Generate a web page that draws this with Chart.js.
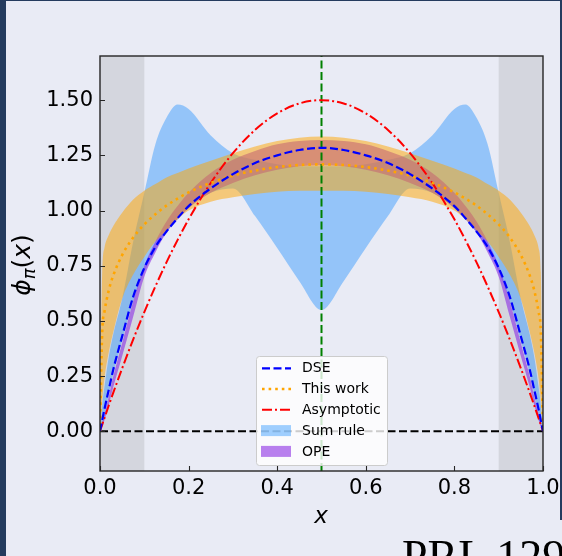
<!DOCTYPE html>
<html>
<head>
<meta charset="utf-8">
<script src="https://cdn.jsdelivr.net/npm/chart.js@4.4.1/dist/chart.umd.min.js"></script>
<style>
    html, body { margin: 0; padding: 0; }
    body {
        width: 562px; height: 556px; overflow: hidden; position: relative;
        background: #243b5e; font-family: "DejaVu Sans", sans-serif;
    }
    #panel { position: absolute; left: 6px; top: 1px; right: 0; bottom: 0; background: #e9ebf5; }
    #chart { position: absolute; left: 0; top: 0; }
    #edge  { position: absolute; left: 560px; top: 0; width: 2px; height: 520px; background: #243b5e; }
    .axis-title {
        position: absolute; height: 30px; line-height: 30px; text-align: center;
        font-family: "DejaVu Sans", sans-serif; font-size: 22px; color: #000; white-space: nowrap;
    }
    .axis-title i { font-style: italic; }
    .axis-title sub { font-size: 72%; vertical-align: -0.3em; line-height: 0; }
    #ylab { left: -38px; top: 250px; width: 120px; font-size: 25px; transform: rotate(-90deg); }
    #xlab { left: 291px; top: 500px; width: 60px; font-size: 23px; }
    #ref {
        position: absolute; left: 402px; top: 534px; line-height: 1; white-space: nowrap;
        font-family: "Liberation Serif", serif; font-size: 46px; color: #000;
    }
</style>
</head>
<body>
<div id="panel"></div>
<canvas id="chart" width="562" height="556"></canvas>
<div id="edge"></div>
<div id="ylab" class="axis-title"><i>ϕ</i><sub><i>π</i></sub>(<i>x</i>)</div>
<div id="xlab" class="axis-title"><i>x</i></div>
<div id="ref">PRL 129</div>

<script>
/* ============================================================
   Pion DA comparison - phi_pi(x) vs x
   ============================================================ */

// ── Data ──────────────────────────────────────────────────────
const xGrid = [0, 0.005, 0.01, 0.02, 0.03, 0.05, 0.075, 0.1, 0.125, 0.15, 0.175, 0.2, 0.25, 0.3, 0.35, 0.4, 0.45, 0.5,
               0.55, 0.6, 0.65, 0.7, 0.75, 0.8, 0.825, 0.85, 0.875, 0.9, 0.925, 0.95, 0.97, 0.98, 0.99, 0.995, 1];

const dseValues = [0, 0.05, 0.1, 0.19, 0.28, 0.43, 0.61, 0.74, 0.835, 0.905, 0.965, 1.02, 1.1, 1.165, 1.215, 1.25, 1.274, 1.284,
                   1.274, 1.25, 1.215, 1.165, 1.1, 1.02, 0.965, 0.905, 0.835, 0.74, 0.61, 0.43, 0.28, 0.19, 0.1, 0.05, 0];

const thisWorkValues = [0, 0.45, 0.54, 0.64, 0.706, 0.798, 0.878, 0.937, 0.983, 1.022, 1.054, 1.082, 1.125, 1.158, 1.181, 1.197, 1.206, 1.209,
                        1.206, 1.197, 1.181, 1.158, 1.125, 1.082, 1.054, 1.022, 0.983, 0.937, 0.878, 0.798, 0.706, 0.64, 0.54, 0.45, 0];

const asymptoticValues = [0, 0.03, 0.059, 0.118, 0.175, 0.285, 0.416, 0.54, 0.656, 0.765, 0.866, 0.96, 1.125, 1.26, 1.365, 1.44, 1.485, 1.5,
                          1.485, 1.44, 1.365, 1.26, 1.125, 0.96, 0.866, 0.765, 0.656, 0.54, 0.416, 0.285, 0.175, 0.118, 0.059, 0.03, 0];

const thisWorkUpper = [0, 0.72, 0.83, 0.89, 0.93, 0.99, 1.05, 1.09, 1.12, 1.15, 1.17, 1.19, 1.225, 1.26, 1.29, 1.315, 1.33, 1.335,
                       1.33, 1.315, 1.29, 1.26, 1.225, 1.19, 1.17, 1.15, 1.12, 1.09, 1.05, 0.99, 0.93, 0.89, 0.83, 0.72, 0];
const thisWorkLower = [0, 0.14, 0.24, 0.36, 0.45, 0.6, 0.71, 0.79, 0.86, 0.91, 0.96, 1.0, 1.04, 1.06, 1.075, 1.085, 1.09, 1.09,
                       1.09, 1.085, 1.075, 1.06, 1.04, 1.0, 0.96, 0.91, 0.86, 0.79, 0.71, 0.6, 0.45, 0.36, 0.24, 0.14, 0];

const sumRuleUpper = [0, 0.12, 0.2, 0.34, 0.44, 0.6, 0.86, 1.08, 1.3, 1.42, 1.48, 1.46, 1.34, 1.26, 1.23, 1.21, 1.2, 1.2,
                      1.2, 1.21, 1.23, 1.26, 1.34, 1.46, 1.48, 1.42, 1.3, 1.08, 0.86, 0.6, 0.44, 0.34, 0.2, 0.12, 0];
const sumRuleLower = [0, 0.04, 0.08, 0.17, 0.26, 0.41, 0.59, 0.72, 0.82, 0.9, 0.96, 1.01, 1.08, 1.1, 0.975, 0.83, 0.68, 0.55,
                      0.68, 0.83, 0.975, 1.1, 1.08, 1.01, 0.96, 0.9, 0.82, 0.72, 0.59, 0.41, 0.26, 0.17, 0.08, 0.04, 0];

const opeUpper = [0, 0.04, 0.08, 0.16, 0.25, 0.4, 0.59, 0.75, 0.86, 0.95, 1.02, 1.08, 1.17, 1.23, 1.27, 1.3, 1.315, 1.32,
                  1.315, 1.3, 1.27, 1.23, 1.17, 1.08, 1.02, 0.95, 0.86, 0.75, 0.59, 0.4, 0.25, 0.16, 0.08, 0.04, 0];
const opeLower = [0, 0.02, 0.05, 0.12, 0.2, 0.34, 0.52, 0.7, 0.81, 0.9, 0.96, 1.01, 1.08, 1.125, 1.16, 1.185, 1.2, 1.205,
                  1.2, 1.185, 1.16, 1.125, 1.08, 1.01, 0.96, 0.9, 0.81, 0.7, 0.52, 0.34, 0.2, 0.12, 0.05, 0.02, 0];

const xTicks = [0, 0.2, 0.4, 0.6, 0.8, 1.0];
const yTicks = [0, 0.25, 0.5, 0.75, 1.0, 1.25, 1.5];
const xRange = [0, 1];
const yRange = [-0.18, 1.70];
const shadedSpans = [[0, 0.1], [0.9, 1.0]];
const zeroLineX = [0, 1];
const zeroLineY = [0, 0];
const midLineX = [0.5, 0.5];
const midLineY = [-0.18, 1.70];
const legendLabels = ["DSE", "This work", "Asymptotic", "Sum rule", "OPE"];

// ── Styles ────────────────────────────────────────────────────
const FONT = "DejaVu Sans";
const C_DSE    = "#0000ff";
const C_WORK   = "#ffa500";
const C_ASYM   = "#ff0000";
const C_SUM    = "rgba(30, 144, 255, 0.42)";
const C_OPE    = "rgba(138, 43, 226, 0.6)";
const C_BAND   = "rgba(255, 165, 0, 0.5)";

// ── Dataset helpers ───────────────────────────────────────────
function pts(xs, ys) {
    return xs.map((x, i) => ({ x, y: ys[i] }));
}

function lineSet(label, ys, color, dash, width) {
    return {
        label, data: pts(xGrid, ys), borderColor: color, borderDash: dash, borderWidth: width,
        pointRadius: 0, fill: false, cubicInterpolationMode: "monotone"
    };
}

function bandSets(label, upper, lower, color) {
    return [
        { label, data: pts(xGrid, upper), borderColor: "transparent", borderWidth: 0, backgroundColor: color,
          pointRadius: 0, fill: "+1", cubicInterpolationMode: "monotone" },
        { label: label + " (lower)", data: pts(xGrid, lower), borderColor: "transparent", borderWidth: 0,
          pointRadius: 0, fill: false, cubicInterpolationMode: "monotone" }
    ];
}

// index 0 is drawn on top
const datasets = [
    lineSet("DSE", dseValues, C_DSE, [8, 3.5], 2.2),
    lineSet("This work", thisWorkValues, C_WORK, [2.6, 4], 2.6),
    lineSet("Asymptotic", asymptoticValues, C_ASYM, [10, 3, 2, 3], 2),
    { label: "mid", data: pts(midLineX, midLineY), borderColor: "#008000", borderDash: [8, 3.5], borderWidth: 2, pointRadius: 0, fill: false },
    { label: "zero", data: pts(zeroLineX, zeroLineY), borderColor: "#000000", borderDash: [8, 3.5], borderWidth: 2, pointRadius: 0, fill: false },
    ...bandSets("This work band", thisWorkUpper, thisWorkLower, C_BAND),
    ...bandSets("OPE", opeUpper, opeLower, C_OPE),
    ...bandSets("Sum rule", sumRuleUpper, sumRuleLower, C_SUM)
];

// ── Plugins ───────────────────────────────────────────────────
const shadePlugin = {
    id: "shade",
    beforeDatasetsDraw(chart) {
        const { ctx, chartArea: a, scales: { x } } = chart;
        ctx.save();
        ctx.fillStyle = "rgba(128, 128, 128, 0.2)";
        shadedSpans.forEach(([x0, x1]) => {
            const p0 = x.getPixelForValue(x0), p1 = x.getPixelForValue(x1);
            ctx.fillRect(p0, a.top, p1 - p0, a.bottom - a.top);
        });
        ctx.restore();
    }
};

const framePlugin = {
    id: "frame",
    afterDatasetsDraw(chart) {
        const { ctx, chartArea: a, scales: { x, y } } = chart;
        ctx.save();
        ctx.strokeStyle = "#262626";
        ctx.lineWidth = 1.4;
        ctx.setLineDash([]);
        ctx.strokeRect(a.left, a.top, a.right - a.left, a.bottom - a.top);
        // inward tick marks
        ctx.lineWidth = 1.1;
        ctx.beginPath();
        xTicks.forEach(v => {
            const px = Math.round(x.getPixelForValue(v)) + 0.5;
            ctx.moveTo(px, a.bottom);
            ctx.lineTo(px, a.bottom - 5);
        });
        yTicks.forEach(v => {
            const py = Math.round(y.getPixelForValue(v)) + 0.5;
            ctx.moveTo(a.left, py);
            ctx.lineTo(a.left + 5, py);
        });
        ctx.stroke();
        ctx.restore();
    }
};

const legendPlugin = {
    id: "boxLegend",
    afterDraw(chart) {
        const ctx = chart.ctx;
        const box = { x: 256, y: 356, w: 131, h: 109 };
        const rows = [368.3, 389, 409.8, 430.6, 451.4];
        ctx.save();
        ctx.beginPath();
        ctx.roundRect(box.x + 0.5, box.y + 0.5, box.w, box.h, 3);
        ctx.fillStyle = "rgba(255, 255, 255, 0.8)";
        ctx.fill();
        ctx.strokeStyle = "#cccccc";
        ctx.lineWidth = 1;
        ctx.stroke();

        const styles = [
            { kind: "line", ds: datasets[0] },
            { kind: "line", ds: datasets[1] },
            { kind: "line", ds: datasets[2] },
            { kind: "patch", color: C_SUM },
            { kind: "patch", color: C_OPE }
        ];
        styles.forEach((s, i) => {
            const yy = rows[i];
            if (s.kind === "line") {
                ctx.beginPath();
                ctx.strokeStyle = s.ds.borderColor;
                ctx.lineWidth = s.ds.borderWidth;
                ctx.setLineDash(s.ds.borderDash);
                ctx.moveTo(262, yy);
                ctx.lineTo(291, yy);
                ctx.stroke();
            } else {
                ctx.fillStyle = s.color;
                ctx.fillRect(261, yy - 5.5, 30, 11);
            }
            ctx.setLineDash([]);
            ctx.fillStyle = "#000";
            ctx.font = `14px "${FONT}"`;
            ctx.textBaseline = "middle";
            ctx.fillText(legendLabels[i], 302, yy + 0.5);
        });
        ctx.restore();
    }
};

// ── Chart ─────────────────────────────────────────────────────
const tickFont = { family: FONT, size: 21 };

new Chart(document.getElementById("chart").getContext("2d"), {
    type: "line",
    data: { datasets },
    options: {
        responsive: false,
        animation: false,
        layout: { padding: { left: 0, top: 56, right: 19, bottom: 0 } },
        plugins: { legend: { display: false }, tooltip: { enabled: false } },
        scales: {
            x: {
                type: "linear", min: xRange[0], max: xRange[1],
                grid: { display: false, drawTicks: false }, border: { display: false },
                afterBuildTicks: s => { s.ticks = xTicks.map(v => ({ value: v })); },
                afterFit: s => { s.height = 85; s.paddingLeft = 0; s.paddingRight = 0; },
                ticks: { padding: 5, color: "#000", font: tickFont, maxRotation: 0, autoSkip: false,
                         callback: v => Number(v).toFixed(1) }
            },
            y: {
                type: "linear", min: yRange[0], max: yRange[1],
                grid: { display: false, drawTicks: false }, border: { display: false },
                afterBuildTicks: s => { s.ticks = yTicks.map(v => ({ value: v })); },
                afterFit: s => { s.width = 100; s.paddingTop = 0; s.paddingBottom = 0; },
                ticks: { padding: 7, color: "#000", font: tickFont, autoSkip: false,
                         callback: v => Number(v).toFixed(2) }
            }
        }
    },
    plugins: [shadePlugin, framePlugin, legendPlugin]
});
</script>
</body>
</html>
